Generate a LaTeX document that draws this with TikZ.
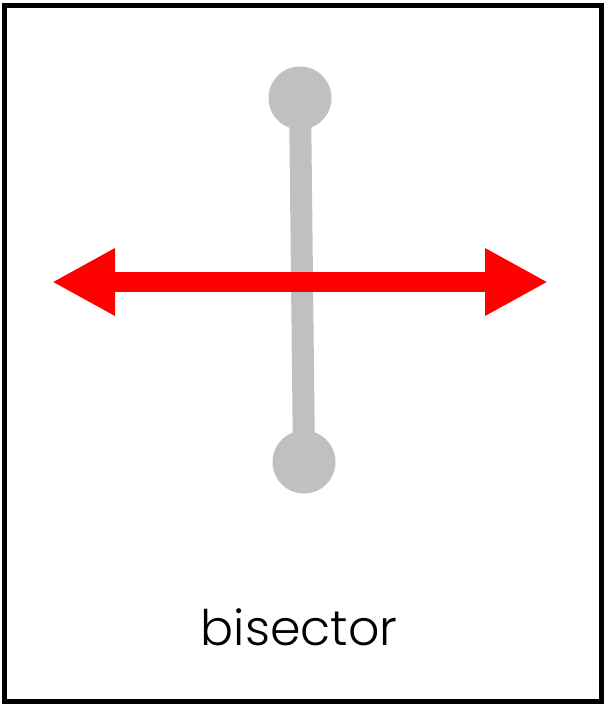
\documentclass[tikz,border=0pt]{standalone}
\usepackage{fontspec}
\setmainfont{Poppins Light}
\usetikzlibrary{arrows.meta}
\definecolor{seggray}{RGB}{192,192,192}
\definecolor{arrred}{RGB}{255,0,0}
\tikzset{
  frame/.style={draw=black,line width=5pt},
  seg/.style={draw=seggray,line width=22pt},
  endpt/.style={circle,fill=seggray,minimum size=63pt,inner sep=0pt},
  bis/.style={draw=arrred,line width=20pt,{Triangle[length=63pt,width=63pt]}-{Triangle[length=63pt,width=63pt]}},
  lbl/.style={font=\fontsize{49}{58}\selectfont,text=black,inner sep=0pt}
}
\begin{document}
\begin{tikzpicture}[x=1pt,y=-1pt]
\useasboundingbox (0,0) rectangle (605,704);
\draw[frame] (4.5,5) rectangle (601.5,701);
\node[endpt] (p) at (300,98) {};
\node[endpt] (q) at (304,462) {};
\draw[seg] (p.center) -- (q.center);
\coordinate (l) at (52,282);
\coordinate (r) at (548,282);
\draw[bis] (l) -- (r);
\node[lbl,anchor=base] (t) at (299,645) {bisector};
\end{tikzpicture}
\end{document}
